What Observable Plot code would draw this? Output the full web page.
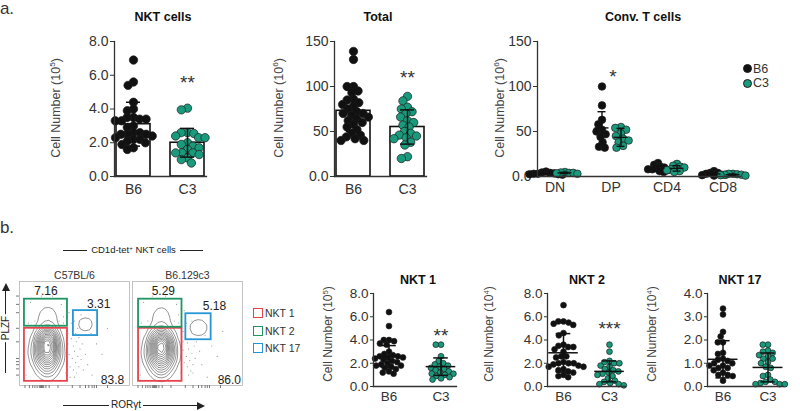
<!DOCTYPE html>
<html><head><meta charset="utf-8">
<script src="https://cdn.jsdelivr.net/npm/d3@7"></script>
<script src="https://cdn.jsdelivr.net/npm/@observablehq/plot@0.6"></script>
<style>
body{margin:0;background:#fff;font-family:"Liberation Sans",Arial,sans-serif;color:#333}
#root{position:relative;width:800px;height:411px;overflow:hidden;background:#fff}
.lbl{position:absolute;white-space:nowrap;line-height:1}
.lbl sup{font-size:0.65em;vertical-align:0.55em;line-height:0}
.hline{position:absolute;height:1px;background:#222}
.vline{position:absolute;width:1px;background:#222}
</style></head>
<body><div id="root"></div>
<script>
// ---------------- DATA ----------------
const groups = ["B6", "C3"];
const groupColors = ["#111111", "#1a9a7c"];

// Panel a: NKT cells (10^5)
const nktB6 = [6.9, 5.6, 5.4, 4.4, 4.0, 3.9, 3.5, 3.5, 3.4, 3.4, 3.3, 3.3, 3.0, 2.9, 2.6, 2.6, 2.5, 2.5, 2.5, 2.4, 2.3, 2.2, 2.2, 2.1, 2.0, 1.9, 1.7, 1.6];
const nktC3 = [4.05, 3.95, 2.6, 2.6, 2.55, 2.4, 2.3, 2.3, 2.0, 1.9, 1.8, 1.7, 1.6, 1.4, 1.4, 1.4, 1.3, 1.1, 1.0, 0.8];
const nktMean = [3.1, 2.0];
const nktSD = [1.3, 0.85];

// Panel a: Total (10^6)
const totalB6 = [139, 130, 100, 100, 95, 93, 86, 85, 82, 80, 78, 75, 72, 70, 70, 68, 66, 64, 62, 60, 58, 55, 52, 48, 46, 44, 42, 40, 40];
const totalC3 = [89, 84, 77, 75, 72, 70, 66, 62, 60, 57, 55, 50, 48, 46, 45, 43, 42, 38, 35, 22, 20];
const totalMean = [73, 55];
const totalSD = [23, 19];

// Panel a: Conv. T cells (10^6)
const convCats = ["DN", "DP", "CD4", "CD8"];
const convB6 = [
  [5.5, 4.5, 4.0, 3.5, 3.0, 3.0, 2.5, 2.5, 2.0],
  [100, 79, 63, 58, 52, 50, 47, 44, 38, 33, 32],
  [15, 13, 11, 10, 9, 8, 8, 7, 6, 5],
  [6, 4, 4, 3, 2, 2, 1.5, 1]
];
const convC3 = [
  [5.0, 4.5, 4.0, 4.0, 3.5, 3.0],
  [55, 54, 52, 48, 45, 42, 40, 38, 34, 32],
  [14, 12, 11, 10, 9, 8, 7, 6, 5],
  [3, 3, 2.5, 2, 2, 1.5, 1]
];
const convMeanB6 = [3.3, 54, 9, 2.8];
const convSDB6 = [1.2, 18, 3, 1.5];
const convMeanC3 = [4.0, 43.5, 9, 2.0];
const convSDC3 = [0.8, 10, 3, 0.8];

// Panel b: NKT 1 (10^5)
const nkt1B6 = [6.4, 5.2, 4.0, 4.0, 3.9, 3.7, 3.6, 3.0, 2.8, 2.7, 2.6, 2.6, 2.5, 2.5, 2.4, 2.3, 2.2, 2.1, 2.0, 1.9, 1.8, 1.8, 1.7, 1.6, 1.5, 1.3, 1.2, 1.1];
const nkt1C3 = [3.6, 3.6, 2.6, 2.2, 2.0, 1.9, 1.8, 1.7, 1.6, 1.5, 1.4, 1.3, 1.2, 1.1, 1.1, 1.0, 0.9, 0.8, 0.7, 0.6];
const nkt1Mean = [2.57, 1.71];
const nkt1SD = [0.95, 0.75];
// Panel b: NKT 2 (10^4)
const nkt2B6 = [7.0, 5.6, 5.6, 5.5, 5.4, 5.3, 4.6, 4.4, 3.6, 3.5, 3.4, 3.4, 3.2, 3.0, 2.6, 2.6, 2.5, 2.1, 2.0, 2.0, 2.0, 1.9, 1.8, 1.7, 1.7, 1.5, 1.4, 1.3, 1.2, 1.0, 0.9, 0.8];
const nkt2C3 = [3.6, 3.0, 2.2, 2.1, 2.0, 2.0, 1.8, 1.7, 1.5, 1.4, 1.3, 1.2, 1.1, 1.0, 0.9, 0.7, 0.5, 0.4, 0.3, 0.2, 0.2, 0.1];
const nkt2Mean = [2.9, 1.3];
const nkt2SD = [1.65, 0.9];
// Panel b: NKT 17 (10^4)
const nkt17B6 = [3.35, 3.1, 2.35, 2.15, 1.9, 1.9, 1.45, 1.4, 1.2, 1.15, 1.1, 1.0, 1.0, 0.9, 0.9, 0.8, 0.8, 0.7, 0.6, 0.5, 0.5, 0.45, 0.25];
const nkt17C3 = [1.8, 1.8, 1.55, 1.5, 1.45, 1.35, 1.3, 1.2, 1.2, 1.05, 1.0, 0.85, 0.8, 0.5, 0.45, 0.3, 0.2, 0.2, 0.15, 0.1, 0.1, 0.1];
const nkt17Mean = [1.17, 0.82];
const nkt17SD = [0.8, 0.62];

// significance marks [group, y, text]
const starNKT = ["C3", 5.57, "**"];
const starTotal = ["C3", 109, "**"];
const starConv = ["DP", 111, "*"];
const starNKT1 = ["C3", 4.37, "**"];
const starNKT2 = ["C3", 4.97, "***"];

// tick labels
const ticks8 = [0, 2, 4, 6, 8];
const ticks150 = [0, 50, 100, 150];
const ticks4 = [0, 1, 2, 3, 4];

// Flow cytometry (panel b left)
const flowPlots = ["C57BL/6", "B6.129c3"];
const gateTypes = ["NKT 1", "NKT 2", "NKT 17"];
const gateColors = ["#e8434c", "#1f9563", "#2796d6"];
// gates: [plot, type, x1, x2, y1, y2]
const gates = [
  [0, "NKT 1", 4.5, 43.6, 4, 55], [0, "NKT 2", 4.5, 43.6, 57, 83], [0, "NKT 17", 49, 71, 48, 72],
  [1, "NKT 1", 5.5, 45, 4, 55], [1, "NKT 2", 5.5, 45, 56, 83], [1, "NKT 17", 48.5, 71.5, 44, 69]
];
// gate percentages: [plot, x, y, text]
const gatePct = [
  [0, 24, 90.5, "7.16"], [0, 72, 78, "3.31"], [0, 84.5, 5, "83.8"],
  [1, 28, 90.5, "5.29"], [1, 74.5, 76, "5.18"], [1, 88, 5, "86.0"]
];
// density kernels: [plot, x, y, weight]
const flowDensity = [
  [0,25,10,1],[0,25,16,2],[0,25,22,3.5],[0,25,29,5],[0,25,35,6.5],[0,25,41,7.5],[0,25,47,5],[0,25,52,2.2],
  [0,19,18,1.5],[0,31,18,1.5],[0,18,28,2.5],[0,32,28,2.5],[0,19,38,3],[0,31,38,3],[0,20,47,1.5],[0,30,47,1.5],
  [0,14,28,0.6],[0,36,28,0.6],[0,14,38,0.6],[0,36,38,0.6],
  [0,21,64,1.0],[0,30,64,1.0],[0,25,70,0.8],[0,21,73,0.5],[0,31,73,0.5],
  [0,60,59,2.6],
  [1,26,10,1.2],[1,26,16,2.3],[1,26,22,4],[1,26,29,5.5],[1,26,35,7],[1,26,40,7.5],[1,26,46,5],[1,26,52,2.2],
  [1,20,18,1.8],[1,32,18,1.8],[1,19,28,2.8],[1,33,28,2.8],[1,20,38,3],[1,32,38,3],[1,21,47,1.5],[1,31,47,1.5],
  [1,14,28,0.7],[1,38,28,0.7],[1,14,38,0.7],[1,38,38,0.7],
  [1,22,64,0.9],[1,31,64,0.9],[1,26,70,0.7],[1,22,73,0.5],[1,31,73,0.5],
  [1,60,56,3.2]
];
// scattered single events: [plot, x, y]
const flowEvents = [
  [0,50,8],[0,52,12],[0,49,15],[0,54,18],[0,51,22],[0,48,26],[0,53,28],[0,50,33],[0,55,35],[0,49,38],
  [0,52,42],[0,47,45],[0,54,46],[0,51,50],[0,56,25],[0,58,15],[0,46,18],[0,45,30],[0,57,40],[0,60,30],
  [0,8,60],[0,40,60],[0,44,50],[0,42,12],[0,6,10],[0,36,62],[0,14,62],[0,40,66],[0,10,80],[0,38,78],
  [0,45,70],[0,47,60],[0,65,50],[0,70,40],[0,62,20],[0,66,10],[0,75,30],[0,80,55],[0,30,86],[0,20,86],
  [0,53,55],[0,50,62],[0,56,68],[0,44,40],[0,46,8],
  [1,51,10],[1,53,14],[1,50,18],[1,55,20],[1,52,24],[1,49,28],[1,54,31],[1,51,35],[1,56,38],[1,50,41],
  [1,53,45],[1,48,48],[1,55,12],[1,57,26],[1,47,22],[1,46,34],[1,58,42],[1,61,33],[1,8,60],[1,42,60],
  [1,46,52],[1,44,12],[1,7,10],[1,38,62],[1,14,62],[1,42,68],[1,10,80],[1,40,78],[1,47,72],[1,49,60],
  [1,66,48],[1,72,38],[1,63,20],[1,68,8],[1,77,28],[1,82,52],[1,30,86],[1,18,86],[1,54,62],[1,46,42]
];
const flowTicksX = [5, 9, 12, 14, 16, 18, 19, 20, 21, 22, 24, 27, 35, 48, 55, 60, 63, 66, 68, 70, 80];
const flowTicksY = [10, 16, 20, 23, 26, 42, 55, 70, 78, 86];

// ---------------- DRAWING ----------------
const root = document.getElementById("root");
const baseStyle = {fontFamily: "'Liberation Sans', Arial, sans-serif", color: "#333", background: "transparent", overflow: "visible"};

function place(node, x, y) {
  node.style.position = "absolute";
  node.style.left = x + "px";
  node.style.top = y + "px";
  root.appendChild(node);
}
function addText(html, x, y, o = {}) {
  const d = document.createElement("div");
  d.className = "lbl";
  d.innerHTML = html;
  d.style.left = x + "px";
  d.style.top = y + "px";
  d.style.fontSize = (o.size || 12) + "px";
  if (o.bold) d.style.fontWeight = "bold";
  if (o.color) d.style.color = o.color;
  if (o.bg) d.style.background = o.bg;
  if (o.pad) d.style.padding = o.pad;
  const anchor = o.left ? "translate(0,-50%)" : "translate(-50%,-50%)";
  d.style.transform = anchor + (o.rotate ? " rotate(-90deg)" : "");
  root.appendChild(d);
  return d;
}
function addBox(cls, x, y, w, h, extra = {}) {
  const d = document.createElement("div");
  d.className = cls;
  d.style.left = x + "px"; d.style.top = y + "px";
  if (w != null) d.style.width = w + "px";
  if (h != null) d.style.height = h + "px";
  Object.assign(d.style, extra);
  root.appendChild(d);
  return d;
}

function fmtY(d) { return d === 0 ? "0.0" : String(d); }

function groupChart(o) {
  const rows = [
    ...o.b6.map(v => ({group: "B6", value: v})),
    ...o.c3.map(v => ({group: "C3", value: v}))
  ];
  const stats = groups.map((g, i) => ({group: g, mean: o.mean[i], lo: o.mean[i] - o.sd[i], hi: o.mean[i] + o.sd[i]}));
  const marks = [];
  if (o.bars) marks.push(Plot.barY(stats, {fx: "group", y: "mean", fill: "white", stroke: "#111", strokeWidth: 1.6, insetLeft: o.barInset, insetRight: o.barInset}));
  marks.push(Plot.dot(rows, Plot.dodgeX({anchor: "middle", padding: o.pad}, {fx: "group", y: "value", r: o.r, fill: "group", stroke: "#1c1c1c", strokeWidth: 0.7})));
  marks.push(Plot.ruleX(stats, {fx: "group", x: null, y1: "lo", y2: "hi", stroke: "#111", strokeWidth: 1.5}));
  marks.push(Plot.tickY(stats, {fx: "group", y: "hi", insetLeft: o.capInset, insetRight: o.capInset, stroke: "#111", strokeWidth: 1.5}));
  marks.push(Plot.tickY(stats, {fx: "group", y: "lo", insetLeft: o.capInset, insetRight: o.capInset, stroke: "#111", strokeWidth: 1.5}));
  if (!o.bars) marks.push(Plot.tickY(stats, {fx: "group", y: "mean", insetLeft: o.meanInset, insetRight: o.meanInset, stroke: "#111", strokeWidth: 1.5}));
  if (o.star) marks.push(Plot.text([{group: o.star[0], y: o.star[1], text: o.star[2]}], {fx: "group", y: "y", text: "text", fontSize: 19, fill: "#333"}));
  marks.push(Plot.frame({anchor: "left", facet: "super", stroke: "#333", strokeWidth: 1.3}));
  marks.push(Plot.frame({anchor: "bottom", facet: "super", stroke: "#333", strokeWidth: 1.3}));
  return Plot.plot({
    width: o.width, height: o.height,
    marginLeft: o.ml, marginRight: o.mr, marginTop: o.mt, marginBottom: o.mb,
    style: {...baseStyle, fontSize: o.fontSize + "px"},
    fx: {domain: groups, paddingInner: o.pi, paddingOuter: o.po, axis: "bottom", tickSize: 0, tickPadding: o.xPad, label: null},
    y: {domain: o.yDomain, ticks: o.ticks, tickFormat: o.fmt, tickSize: o.tickSize, tickPadding: 2, label: null},
    color: {domain: groups, range: groupColors},
    marks
  });
}

// Panel a charts
place(groupChart({b6: nktB6, c3: nktC3, mean: nktMean, sd: nktSD, bars: true, star: starNKT,
  width: 240, height: 200, ml: 98, mr: 17, mt: 41, mb: 24, pi: 0.296, po: 0.296, barInset: 2, capInset: 12,
  r: 4.2, pad: -2, yDomain: [0, 8], ticks: ticks8, fmt: d => d.toFixed(1), fontSize: 14, tickSize: 4, xPad: 8}), 0, 0);

place(groupChart({b6: totalB6, c3: totalC3, mean: totalMean, sd: totalSD, bars: true, star: starTotal,
  width: 220, height: 200, ml: 78, mr: 17, mt: 41, mb: 24, pi: 0.296, po: 0.296, barInset: 2, capInset: 12,
  r: 4.2, pad: -2, yDomain: [0, 150], ticks: ticks150, fmt: fmtY, fontSize: 14, tickSize: 4, xPad: 8}), 240, 0);

// Conv T cells
(function () {
  const rows = [];
  const stats = [];
  convCats.forEach((c, i) => {
    convB6[i].forEach(v => rows.push({cat: c, group: "B6", value: v}));
    convC3[i].forEach(v => rows.push({cat: c, group: "C3", value: v}));
    stats.push({cat: c, group: "B6", mean: convMeanB6[i], lo: convMeanB6[i] - convSDB6[i], hi: convMeanB6[i] + convSDB6[i]});
    stats.push({cat: c, group: "C3", mean: convMeanC3[i], lo: convMeanC3[i] - convSDC3[i], hi: convMeanC3[i] + convSDC3[i]});
  });
  const off = {B6: -9, C3: 10};
  const marks = [];
  for (const g of groups) {
    // the spread-out DP cluster and the compressed low-value clusters need different overlap
    marks.push(Plot.dot(rows.filter(d => d.group === g && d.cat === "DP"), Plot.dodgeX({anchor: "middle", padding: -1.8},
      {fx: "cat", y: "value", r: 3.8, fill: "group", stroke: "#1c1c1c", strokeWidth: 0.7, dx: off[g]})));
    marks.push(Plot.dot(rows.filter(d => d.group === g && d.cat !== "DP"), Plot.dodgeX({anchor: "middle", padding: -3.4},
      {fx: "cat", y: "value", r: 3.8, fill: "group", stroke: "#1c1c1c", strokeWidth: 0.7, dx: off[g]})));
  }
  for (const g of groups) {
    const s = stats.filter(d => d.group === g);
    marks.push(Plot.ruleX(s, {fx: "cat", x: null, y1: "lo", y2: "hi", stroke: "#111", strokeWidth: 1.4, dx: off[g]}));
    marks.push(Plot.tickY(s, {fx: "cat", y: "mean", insetLeft: 10.5, insetRight: 10.5, stroke: "#111", strokeWidth: 1.4, dx: off[g]}));
    marks.push(Plot.tickY(s, {fx: "cat", y: "hi", insetLeft: 13.5, insetRight: 13.5, stroke: "#111", strokeWidth: 1.4, dx: off[g]}));
    marks.push(Plot.tickY(s, {fx: "cat", y: "lo", insetLeft: 13.5, insetRight: 13.5, stroke: "#111", strokeWidth: 1.4, dx: off[g]}));
  }
  marks.push(Plot.text([{cat: starConv[0], y: starConv[1], text: starConv[2]}], {fx: "cat", y: "y", text: "text", fontSize: 19, fill: "#333", dx: 2}));
  marks.push(Plot.frame({anchor: "left", facet: "super", stroke: "#333", strokeWidth: 1.3}));
  marks.push(Plot.frame({anchor: "bottom", facet: "super", stroke: "#333", strokeWidth: 1.3}));
  place(Plot.plot({
    width: 340, height: 200, marginLeft: 77, marginRight: 60, marginTop: 41, marginBottom: 24,
    style: {...baseStyle, fontSize: "14px"},
    fx: {domain: convCats, paddingInner: 0.375, paddingOuter: 0, axis: "bottom", tickSize: 0, tickPadding: 6, label: null},
    y: {domain: [0, 150], ticks: ticks150, tickFormat: fmtY, tickSize: 4, tickPadding: 2, label: null},
    color: {domain: groups, range: groupColors},
    marks
  }), 460, 0);
})();

// Panel b scatter charts
place(groupChart({b6: nkt1B6, c3: nkt1C3, mean: nkt1Mean, sd: nkt1SD, bars: false, star: starNKT1,
  width: 175, height: 141, ml: 59, mr: 5, mt: 23, mb: 25, pi: 0.4, po: 0.26, capInset: 8.2, meanInset: 0.7,
  r: 2.9, pad: -0.6, yDomain: [0, 8], ticks: ticks8, fmt: d => d.toFixed(1), fontSize: 13.5, tickSize: 3, xPad: 5}), 300, 270);

place(groupChart({b6: nkt2B6, c3: nkt2C3, mean: nkt2Mean, sd: nkt2SD, bars: false, star: starNKT2,
  width: 170, height: 141, ml: 51, mr: 8, mt: 23, mb: 25, pi: 0.3, po: 0.35, capInset: 8.7, meanInset: 1.2,
  r: 2.9, pad: -0.6, yDomain: [0, 8], ticks: ticks8, fmt: d => d.toFixed(1), fontSize: 13.5, tickSize: 3, xPad: 5}), 480, 270);

place(groupChart({b6: nkt17B6, c3: nkt17C3, mean: nkt17Mean, sd: nkt17SD, bars: false, star: null,
  width: 150, height: 141, ml: 41, mr: 1, mt: 23, mb: 25, pi: 0.3, po: 0.34, capInset: 8.4, meanInset: 0.5,
  r: 2.9, pad: -0.6, yDomain: [0, 4], ticks: ticks4, fmt: d => d.toFixed(1), fontSize: 13.5, tickSize: 3, xPad: 5}), 650, 270);

// Flow cytometry plots
(function () {
  const dens = flowDensity.map(([p, x, y, w]) => ({plot: flowPlots[p], x, y, w}));
  const evts = flowEvents.map(([p, x, y]) => ({plot: flowPlots[p], x, y}));
  const gateRows = gates.map(([p, type, x1, x2, y1, y2]) => ({plot: flowPlots[p], type, x1, x2, y1, y2}));
  const pctRows = gatePct.map(([p, x, y, text]) => ({plot: flowPlots[p], x, y, text}));
  place(Plot.plot({
    width: 250, height: 151, marginLeft: 19, marginRight: 8, marginTop: 21, marginBottom: 26,
    style: {...baseStyle, fontSize: "10.5px"},
    fx: {domain: flowPlots, paddingInner: 0.027, paddingOuter: 0, axis: "top", tickSize: 0, tickPadding: 3, label: null},
    x: {domain: [0, 100]},
    y: {domain: [0, 100]},
    color: {domain: gateTypes, range: gateColors},
    marks: [
      Plot.frame({stroke: "#b5b5b5", strokeWidth: 0.8}),
      Plot.axisX({ticks: flowTicksX, tickSize: 3, tickFormat: () => "", label: null, stroke: "#777"}),
      Plot.axisY({ticks: flowTicksY, tickSize: 3, tickFormat: () => "", label: null, stroke: "#777"}),
      Plot.dot(evts, {fx: "plot", x: "x", y: "y", r: 0.6, fill: "#999"}),
      Plot.density(dens, {fx: "plot", x: "x", y: "y", weight: "w", bandwidth: 5, thresholds: 15, stroke: "#2a2a2a", strokeWidth: 0.5}),
      Plot.rect(gateRows, {fx: "plot", x1: "x1", x2: "x2", y1: "y1", y2: "y2", stroke: "type", fill: "none", strokeWidth: 1.8}),
      Plot.text(pctRows, {fx: "plot", x: "x", y: "y", text: "text", fontSize: 12, fill: "#222"})
    ]
  }), 0, 260);
})();

// ---------------- TEXT / LEGENDS ----------------
addText("a.", 7, 8, {size: 17});
addText("b.", 7, 227, {size: 17});
addText("NKT cells", 163, 17, {size: 12.5, bold: true, color: "#111"});
addText("Total", 378, 17, {size: 12.5, bold: true, color: "#111"});
addText("Conv. T cells", 643, 17, {size: 12.5, bold: true, color: "#111"});
addText("NKT 1", 418, 280, {size: 12.5, bold: true, color: "#111"});
addText("NKT 2", 587, 280, {size: 12.5, bold: true, color: "#111"});
addText("NKT 17", 740, 280, {size: 12.5, bold: true, color: "#111"});

addText("Cell Number (10<sup>5</sup>)", 55.5, 108, {size: 12.5, rotate: true, color: "#444"});
addText("Cell Number (10<sup>6</sup>)", 278.5, 108, {size: 12.5, rotate: true, color: "#444"});
addText("Cell Number (10<sup>6</sup>)", 499.5, 108, {size: 12.5, rotate: true, color: "#444"});
addText("Cell Number (10<sup>5</sup>)", 328, 334, {size: 12, rotate: true, color: "#444"});
addText("Cell Number (10<sup>4</sup>)", 489, 334, {size: 12, rotate: true, color: "#444"});
addText("Cell Number (10<sup>4</sup>)", 652, 334, {size: 12, rotate: true, color: "#444"});

// Conv T legend
groups.forEach((g, i) => {
  const y = 68.5 + i * 14.5;
  addBox("lbl", 742.5, y - 4.5, 9, 9, {borderRadius: "50%", background: groupColors[i], boxSizing: "border-box", border: "0.8px solid #1c1c1c"});
  addText(g, 753, y, {size: 12.5, left: true, color: "#333"});
});

// Flow header
addText("CD1d-tet<sup>+</sup> NKT cells", 133.5, 250, {size: 9.5, color: "#222"});
addBox("hline", 63, 250, 24, null);
addBox("hline", 180, 250, 23, null);

// Flow axis labels with arrows
addBox("vline", 5, 291, null, 82);
addBox("lbl", 1.5, 283, 0, 0, {borderLeft: "4px solid transparent", borderRight: "4px solid transparent", borderBottom: "8px solid #222"});
addText("PLZF", 5.5, 328, {size: 10, rotate: true, bg: "#fff", pad: "0 2px", color: "#222"});
addBox("hline", 63, 405, 135, null);
addBox("lbl", 197, 401.5, 0, 0, {borderTop: "4px solid transparent", borderBottom: "4px solid transparent", borderLeft: "8px solid #222"});
addText("RORγt", 126, 405, {size: 10, bg: "#fff", pad: "0 2px", color: "#222"});

// Flow gate legend
gateTypes.forEach((t, i) => {
  const y = 313 + i * 17.5;
  addBox("lbl", 253, y - 5, 10, 10, {border: "1.6px solid " + gateColors[i], boxSizing: "border-box"});
  addText(t, 265, y, {size: 10.5, left: true, color: "#333"});
});
</script>
</body></html>
